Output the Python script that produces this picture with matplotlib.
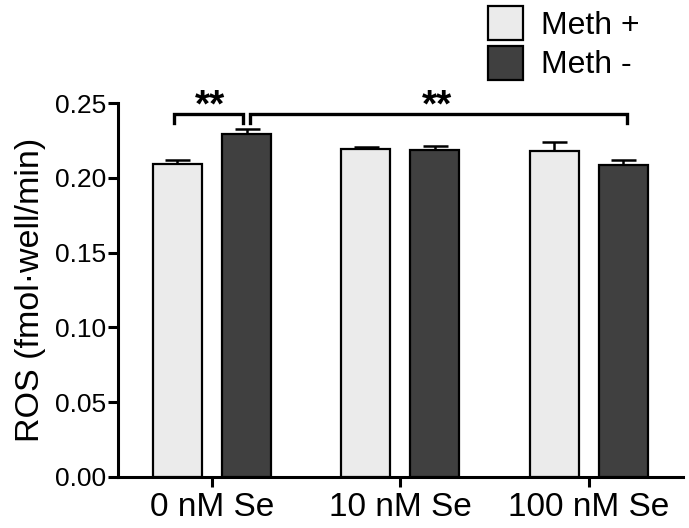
import matplotlib
matplotlib.use("Agg")
import matplotlib.pyplot as plt
import numpy as np
from matplotlib.patches import Patch

plt.rcParams['font.family'] = ['Liberation Sans', 'DejaVu Sans']

categories = ["0 nM Se", "10 nM Se", "100 nM Se"]
meth_plus = [0.2095, 0.2193, 0.2182]
meth_plus_err = [0.0028, 0.0012, 0.0061]
meth_minus = [0.2295, 0.2189, 0.2084]
meth_minus_err = [0.0030, 0.0022, 0.0034]
series_labels = ["Meth +", "Meth -"]
yticks = [0.00, 0.05, 0.10, 0.15, 0.20, 0.25]

light = "#ebebeb"
dark = "#404040"

fig = plt.figure(figsize=(6.89, 5.28), dpi=100)
ax = fig.add_axes([0.171, 0.0966, 0.82, 0.708])

x = np.arange(len(categories))
off = 0.1835
w = 0.26
lw = 1.6
ax.bar(x - off, meth_plus, w, color=light, edgecolor="black", linewidth=lw, zorder=3)
ax.bar(x + off, meth_minus, w, color=dark, edgecolor="black", linewidth=lw, zorder=3)
ax.errorbar(x - off, meth_plus, yerr=[np.zeros(3), meth_plus_err], fmt="none",
            ecolor="black", elinewidth=1.8, capsize=9, capthick=1.8, zorder=2)
ax.errorbar(x + off, meth_minus, yerr=[np.zeros(3), meth_minus_err], fmt="none",
            ecolor="black", elinewidth=1.8, capsize=9, capthick=1.8, zorder=2)

# significance brackets
top = 0.2425
bot = 0.2365
blw = 2.4
ax.plot([x[0] - off - 0.02, x[0] - off - 0.02, x[0] + off - 0.02, x[0] + off - 0.02],
        [bot, top, top, bot], color="black", lw=blw, solid_joinstyle="miter", clip_on=False)
ax.plot([x[0] + off + 0.02, x[0] + off + 0.02, x[2] + off + 0.02, x[2] + off + 0.02],
        [bot, top, top, bot], color="black", lw=blw, solid_joinstyle="miter", clip_on=False)
ax.text(x[0] - 0.01, 0.2475, "**", ha="center", va="center", fontsize=28, fontweight="bold")
ax.text((x[0] + off + x[2] + off) / 2 + 0.01, 0.2475, "**", ha="center", va="center",
        fontsize=28, fontweight="bold")

ax.set_xlim(-0.5, 2.5)
ax.set_ylim(0, 0.25)
ax.set_xticks(x)
ax.set_xticklabels(categories, fontsize=24)
ax.set_yticks(yticks)
ax.set_yticklabels([f"{v:.2f}" for v in yticks], fontsize=19)
ax.set_ylabel("ROS (fmol·well/min)", fontsize=24.5, labelpad=6)
for s in ["top", "right"]:
    ax.spines[s].set_visible(False)
for s in ["left", "bottom"]:
    ax.spines[s].set_linewidth(2.2)
ax.tick_params(axis="both", width=2.2, length=7)
ax.tick_params(axis="y", pad=1.5)

handles = [Patch(facecolor=light, edgecolor="black", linewidth=1.6),
           Patch(facecolor=dark, edgecolor="black", linewidth=1.6)]
fig.legend(handles, series_labels, loc="upper left", bbox_to_anchor=(0.69, 1.012),
           frameon=False, fontsize=23, handlelength=1.1, handleheight=1.25,
           handletextpad=0.55, labelspacing=0.15, borderaxespad=0)

fig.savefig("out.png", dpi=100)
